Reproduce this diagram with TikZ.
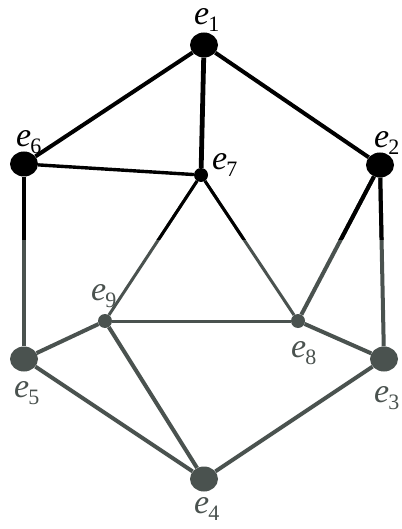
\documentclass[tikz,border=0pt]{standalone}
\usepackage{fontspec}
\setmainfont{Liberation Serif}
\usepackage{xcolor}
\definecolor{cTop}{HTML}{000000}
\definecolor{cLow}{HTML}{4A524F}
\usetikzlibrary{shapes.geometric}
\tikzset{
  vert-big/.style={ellipse,fill,inner sep=0pt,minimum width=28pt,minimum height=25pt},
  vert-small/.style={circle,fill,inner sep=0pt,minimum size=14pt},
  vert-lbl/.style={anchor=base west,inner sep=0pt,text height=16pt,
    font=\fontsize{34}{34}\selectfont},
  edge/.style={line width=4pt},
  edge-thin/.style={line width=3pt},
}
\newcommand{\elab}[1]{\textit{e}\kern-1pt\raisebox{-7pt}{\fontsize{22}{22}\selectfont #1}}

\begin{document}
\begin{tikzpicture}[x=1pt,y=-1pt]
  \useasboundingbox (0,0) rectangle (401,529);
  % vertices
  \node[vert-big,cTop]   (e1) at (204,45)  {};
  \node[vert-big,cTop]   (e6) at (24,164)  {};
  \node[vert-big,cTop]   (e2) at (380,165) {};
  \node[vert-small,cTop] (e7) at (201,175) {};
  \node[vert-small,cLow] (e9) at (105,321) {};
  \node[vert-small,cLow] (e8) at (298,321) {};
  \node[vert-big,cLow]   (e5) at (24,359)  {};
  \node[vert-big,cLow]   (e3) at (384,359) {};
  \node[vert-big,cLow]   (e4) at (204,479) {};
  % labels
  \node[vert-lbl,cTop] (l1) at (194,25)  {\elab{1}};
  \node[vert-lbl,cTop] (l6) at (16,147)  {\elab{6}};
  \node[vert-lbl,cTop] (l2) at (374,148) {\elab{2}};
  \node[vert-lbl,cTop] (l7) at (212,170) {\elab{7}};
  \node[vert-lbl,cLow] (l9) at (91,300)  {\elab{9}};
  \node[vert-lbl,cLow] (l8) at (291,357) {\elab{8}};
  \node[vert-lbl,cLow] (l5) at (14,397)  {\elab{5}};
  \node[vert-lbl,cLow] (l3) at (374,402) {\elab{3}};
  \node[vert-lbl,cLow] (l4) at (194,513) {\elab{4}};
  % upper edges
  \draw[edge,cTop] (e1) -- (e6);
  \draw[edge,cTop,line width=4.8pt] (e1) -- (e7);
  \draw[edge,cTop] (e1) -- (e2);
  \draw[edge-thin,cTop,line width=3.4pt] (e6) -- (e7);
  % lower edges
  \draw[edge-thin,cLow] (e9) -- (e8);
  \foreach \a/\b in {e9/e5,e9/e4,e5/e4,e8/e3,e3/e4}
    \draw[edge,cLow] (\a) -- (\b);
  % edges that go from dark into grey
  \foreach \a/\b/\s in {e6/e5/edge,e7/e9/edge-thin,e7/e8/edge-thin,e2/e8/edge,e2/e3/edge}
    \draw[\s,cLow] (\a) -- (\b);
  \begin{scope}
    \clip (0,0) rectangle (401,239);
    \foreach \a/\b/\s in {e6/e5/edge,e7/e9/edge-thin,e7/e8/edge-thin,e2/e8/edge,e2/e3/edge}
      \draw[\s,cTop] (\a) -- (\b);
  \end{scope}
\end{tikzpicture}
\end{document}
